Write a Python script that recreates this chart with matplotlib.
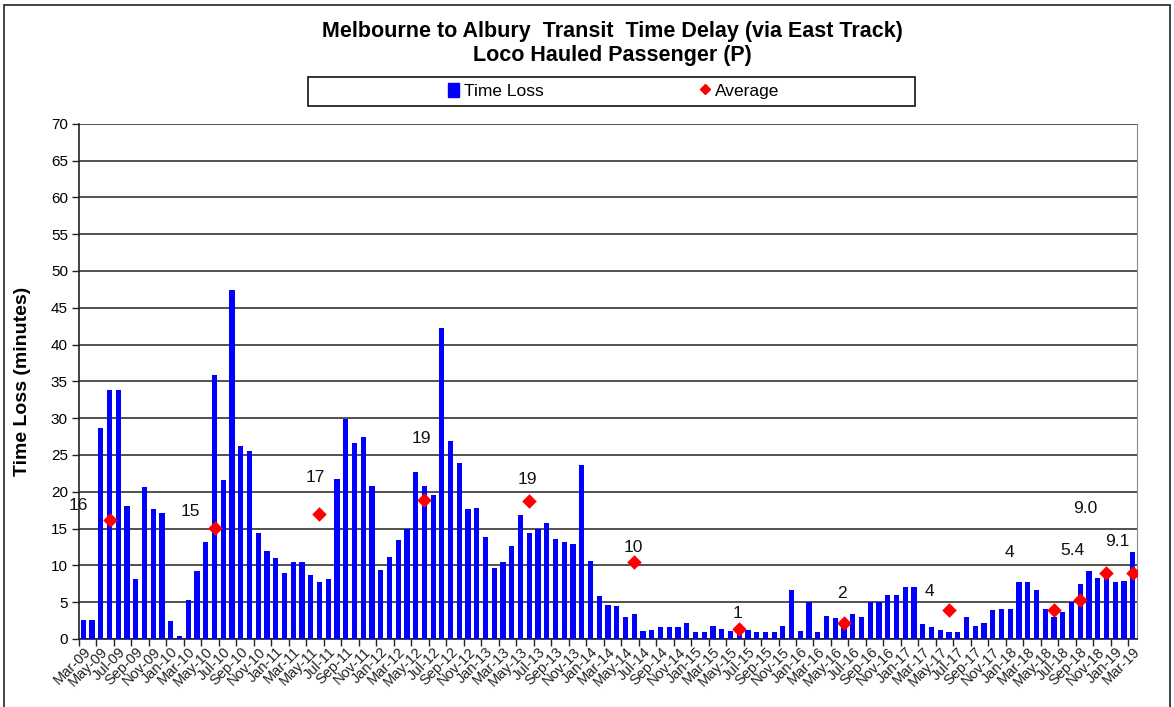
import matplotlib
matplotlib.use("Agg")
import matplotlib.pyplot as plt
from matplotlib.patches import Rectangle
from matplotlib.lines import Line2D
import numpy as np

plt.rcParams['font.family'] = ['Liberation Sans', 'DejaVu Sans']

months = ["Jan", "Feb", "Mar", "Apr", "May", "Jun", "Jul", "Aug", "Sep", "Oct", "Nov", "Dec"]
categories = []
for k in range(121):
    m = (2 + k) % 12
    y = 9 + (2 + k) // 12
    categories.append(f"{months[m]}-{y:02d}")

time_loss = [
    2.6, 2.6, 28.7, 33.8, 33.8, 18.0, 8.1, 20.7, 17.6, 17.1,   # Mar-09..Dec-09
    2.4, 0.45, 5.3, 9.2, 13.2, 35.9, 21.6, 47.4, 26.2, 25.5, 14.4, 11.9,  # 2010
    11.0, 9.0, 10.4, 10.4, 8.7, 7.7, 8.2, 21.8, 29.9, 26.6, 27.5, 20.8,  # 2011
    9.4, 11.1, 13.4, 14.9, 22.7, 20.8, 19.5, 42.2, 26.9, 23.9, 17.6, 17.8,  # 2012
    13.8, 9.6, 10.4, 12.7, 16.8, 14.4, 14.9, 15.7, 13.6, 13.2, 12.9, 23.7,  # 2013
    10.6, 5.8, 4.6, 4.5, 3.0, 3.4, 1.05, 1.2, 1.6, 1.6, 1.6, 2.2,  # 2014
    0.9, 0.9, 1.8, 1.4, 1.05, 1.0, 1.2, 0.9, 0.9, 0.9, 1.8, 6.6,  # 2015
    1.05, 5.0, 0.9, 3.1, 2.8, 2.0, 3.4, 3.0, 5.0, 5.0, 6.0, 6.0,  # 2016
    7.0, 7.1, 2.0, 1.6, 1.2, 0.9, 0.9, 3.0, 1.8, 2.2, 3.9, 4.1,  # 2017
    4.1, 7.7, 7.7, 6.6, 4.1, 3.0, 3.7, 5.0, 7.5, 9.2, 8.3, 8.9,  # 2018
    7.7, 7.9, 11.8,  # 2019
]

avg_months = ["Jun-09", "Jun-10", "Jun-11", "Jun-12", "Jun-13", "Jun-14", "Jun-15",
              "Jun-16", "Jun-17", "Jun-18", "Sep-18", "Dec-18", "Mar-19"]
avg_values = [16.2, 15.1, 17.0, 18.9, 18.8, 10.5, 1.4, 2.2, 4.0, 4.0, 5.3, 9.0, 9.0]

avg_labels = ["16", "15", "17", "19", "19", "10", "1", "2", "4", "4", "5.4", "9.0", "9.1"]
# label anchor positions (category index, y) as placed in the reference
label_pos = [(-0.6, 18.2), (12.2, 17.3), (26.5, 22.0), (38.7, 27.3), (50.8, 21.6),
             (62.9, 12.4), (74.8, 3.4), (86.8, 6.2), (96.8, 6.5), (105.9, 11.7),
             (113.1, 12.0), (114.6, 17.7), (118.3, 13.2)]

W, H = 1174, 707
fig = plt.figure(figsize=(W / 100, H / 100), dpi=100)

# outer border
fig.patches.append(Rectangle((4 / W, -0.01), (1170 - 4) / W, (H - 5) / H + 0.01,
                             transform=fig.transFigure, fill=False,
                             edgecolor="#222222", linewidth=1.2))

left, right = 79 / W, 1137 / W
bottom, top = (H - 639) / H, (H - 123.7) / H
ax = fig.add_axes([left, bottom, right - left, top - bottom])

x = np.arange(len(categories))
ax.bar(x, time_loss, width=0.6, color="#0000FF", zorder=3)

idx = {c: i for i, c in enumerate(categories)}
ax_x = [idx[m] for m in avg_months]
ax.scatter(ax_x, avg_values, marker="D", s=55, color="#FF0000", zorder=4, linewidths=0)

for lab, (lx, ly) in zip(avg_labels, label_pos):
    ax.text(lx, ly, lab, ha="center", va="center", fontsize=12.5, color="#111111",
            clip_on=False, zorder=5)

ax.set_xlim(-0.5, len(categories) - 0.5)
ax.set_ylim(0, 70)
ax.set_yticks(np.arange(0, 71, 5))
ax.yaxis.grid(True, color="#333333", linewidth=1.2, zorder=1)
ax.set_axisbelow(True)

tick_pos = np.arange(0, len(categories), 2)
ax.set_xticks(tick_pos)
ax.set_xticklabels([categories[i] for i in tick_pos], rotation=45, ha="right",
                   rotation_mode="anchor", fontsize=10.5, color="#222222")
# tick marks at category boundaries
ax.set_xticks(tick_pos - 0.5, minor=True)
ax.tick_params(axis="x", which="major", length=0, pad=4)
ax.tick_params(axis="x", which="minor", length=5, width=1, color="#222222")
ax.tick_params(axis="y", length=5, width=1, color="#222222", labelsize=11, pad=3)

ax.spines["top"].set_visible(False)
ax.spines["right"].set_color("#888888")
ax.spines["left"].set_color("#222222")
ax.spines["bottom"].set_color("#222222")
ax.spines["left"].set_linewidth(1.2)
ax.spines["bottom"].set_linewidth(1.2)

ax.set_ylabel("Time Loss (minutes)", fontsize=14, fontweight="bold", labelpad=14)

fig.text(612 / W, 1 - 31 / H, "Melbourne to Albury  Transit  Time Delay (via East Track)",
         ha="center", va="center", fontsize=15.5, fontweight="bold")
fig.text(612 / W, 1 - 56 / H, "Loco Hauled Passenger (P)",
         ha="center", va="center", fontsize=15.5, fontweight="bold")

# legend box
fig.patches.append(Rectangle((308 / W, 1 - 106 / H), (915 - 308) / W, 29 / H,
                             transform=fig.transFigure, fill=False,
                             edgecolor="#111111", linewidth=1.2))
handles = [Rectangle((0, 0), 1, 1, color="#0000FF"),
           Line2D([], [], marker="D", color="#FF0000", linestyle="none", markersize=5)]
fig.legend(handles, ["Time Loss", "Average"], loc="center",
           bbox_to_anchor=(614 / W, 1 - 91 / H), ncol=2, frameon=False,
           fontsize=12.5, handlelength=0.6, handleheight=0.9, handletextpad=0.3,
           columnspacing=9)

fig.savefig("out.png", dpi=100)
